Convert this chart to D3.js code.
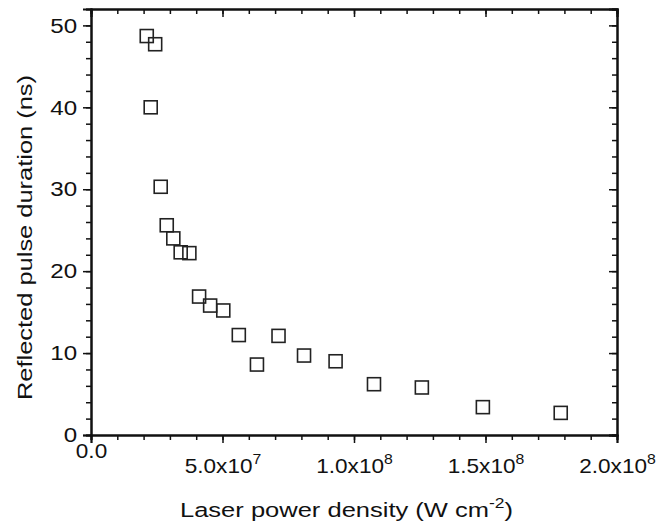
<!DOCTYPE html>
<html>
<head>
<meta charset="utf-8">
<script src="https://cdn.jsdelivr.net/npm/d3@7"></script>
<style>
  body { margin: 0; background: #fff; }
  text { font-family: "Liberation Sans", Arial, sans-serif; fill: #111; }
</style>
</head>
<body>
<svg id="chart" width="669" height="525"></svg>
<script>
// data
let powerDensity = [2.12e7, 2.44e7, 2.27e7, 2.65e7, 2.88e7, 3.13e7, 3.41e7, 3.74e7, 4.11e7, 4.53e7,
                    5.03e7, 5.62e7, 6.31e7, 7.13e7, 8.1e7, 9.3e7, 1.076e8, 1.258e8, 1.49e8, 1.786e8];
let pulseDuration = [48.7, 47.7, 40.0, 30.3, 25.6, 24.0, 22.3, 22.2, 16.9, 15.8,
                     15.2, 12.2, 8.6, 12.1, 9.7, 9.0, 6.2, 5.8, 3.4, 2.7];
let xTickValues = [0, 5e7, 1e8, 1.5e8, 2e8];
let xTickLabels = ["0.0", "5.0x10^7", "1.0x10^8", "1.5x10^8", "2.0x10^8"];
let xMinorTicks = d3.range(0, 2.01e8, 1e7);
let yTickValues = [0, 10, 20, 30, 40, 50];
let yMinorTicks = d3.range(0, 53, 2);

let svg = d3.select('#chart');
let width = +svg.attr('width');
let height = +svg.attr('height');
let pad = {t: 9, r: 52, b: 90, l: 91};
let chartW = width - pad.l - pad.r;
let chartH = height - pad.t - pad.b;

let xScale = d3.scaleLinear().domain([0, 2e8]).range([0, chartW]);
let yScale = d3.scaleLinear().domain([0, 52]).range([chartH, 0]);

let g = svg.append('g').attr('transform', `translate(${pad.l},${pad.t})`);

function styleAxis(sel) {
    sel.select('.domain').attr('stroke', '#111').attr('stroke-width', 2);
    sel.selectAll('.tick line').attr('stroke', '#111').attr('stroke-width', 1.5);
}

// bottom axis: minor ticks then major ticks with labels
g.append('g').attr('transform', `translate(0,${chartH})`)
    .call(d3.axisBottom(xScale).tickValues(xMinorTicks).tickSize(5).tickFormat(''))
    .call(styleAxis);
let xAxisG = g.append('g').attr('transform', `translate(0,${chartH})`)
    .call(d3.axisBottom(xScale).tickValues(xTickValues).tickSize(8))
    .call(styleAxis);
xAxisG.selectAll('.tick text').each(function(d, i) {
    let t = d3.select(this).text('');
    let parts = xTickLabels[i].split('^');
    // labels with a power sit lower than the plain "0.0"
    t.attr('font-size', 20)
        .attr('transform', 'scale(1.13,1)')
        .attr('y', parts[1] ? 38 : 23.5)
        .attr('dy', null);
    t.append('tspan').text(parts[0]);
    if (parts[1]) {
        t.append('tspan').attr('font-size', 14).attr('dy', -9).text(parts[1]);
    }
});

// top axis, ticks inward
g.append('g')
    .call(d3.axisBottom(xScale).tickValues(xMinorTicks).tickSize(5).tickFormat(''))
    .call(styleAxis);
g.append('g')
    .call(d3.axisBottom(xScale).tickValues(xTickValues).tickSize(8).tickFormat(''))
    .call(styleAxis);

// left axis
g.append('g')
    .call(d3.axisLeft(yScale).tickValues(yMinorTicks).tickSize(5).tickFormat(''))
    .call(styleAxis);
let yAxisG = g.append('g')
    .call(d3.axisLeft(yScale).tickValues(yTickValues).tickSize(8))
    .call(styleAxis);
yAxisG.selectAll('.tick text')
    .attr('font-size', 21)
    .attr('transform', 'scale(1.15,1)')
    .attr('x', -12);

// right axis, ticks inward
g.append('g').attr('transform', `translate(${chartW},0)`)
    .call(d3.axisLeft(yScale).tickValues(yMinorTicks).tickSize(5).tickFormat(''))
    .call(styleAxis);
g.append('g').attr('transform', `translate(${chartW},0)`)
    .call(d3.axisLeft(yScale).tickValues(yTickValues).tickSize(8).tickFormat(''))
    .call(styleAxis);

// open square markers
g.append('g').selectAll('rect')
    .data(powerDensity)
    .join('rect')
    .attr('x', (d) => xScale(d) - 6.5)
    .attr('y', (d, i) => yScale(pulseDuration[i]) - 6.5)
    .attr('width', 13)
    .attr('height', 13)
    .attr('fill', 'none')
    .attr('stroke', '#222')
    .attr('stroke-width', 1.6);

// axis titles
let xTitle = svg.append('text')
    .attr('x', 180)
    .attr('y', 517)
    .attr('font-size', 20.5)
    .attr('textLength', 333)
    .attr('lengthAdjust', 'spacingAndGlyphs');
xTitle.append('tspan').text('Laser power density (W cm');
xTitle.append('tspan').attr('font-size', 14).attr('dy', -9).text('-2');
xTitle.append('tspan').attr('dy', 9).text(')');

svg.append('text')
    .attr('transform', `translate(32,400) rotate(-90)`)
    .attr('font-size', 21)
    .attr('textLength', 325)
    .attr('lengthAdjust', 'spacingAndGlyphs')
    .text('Reflected pulse duration (ns)');
</script>
</body>
</html>
